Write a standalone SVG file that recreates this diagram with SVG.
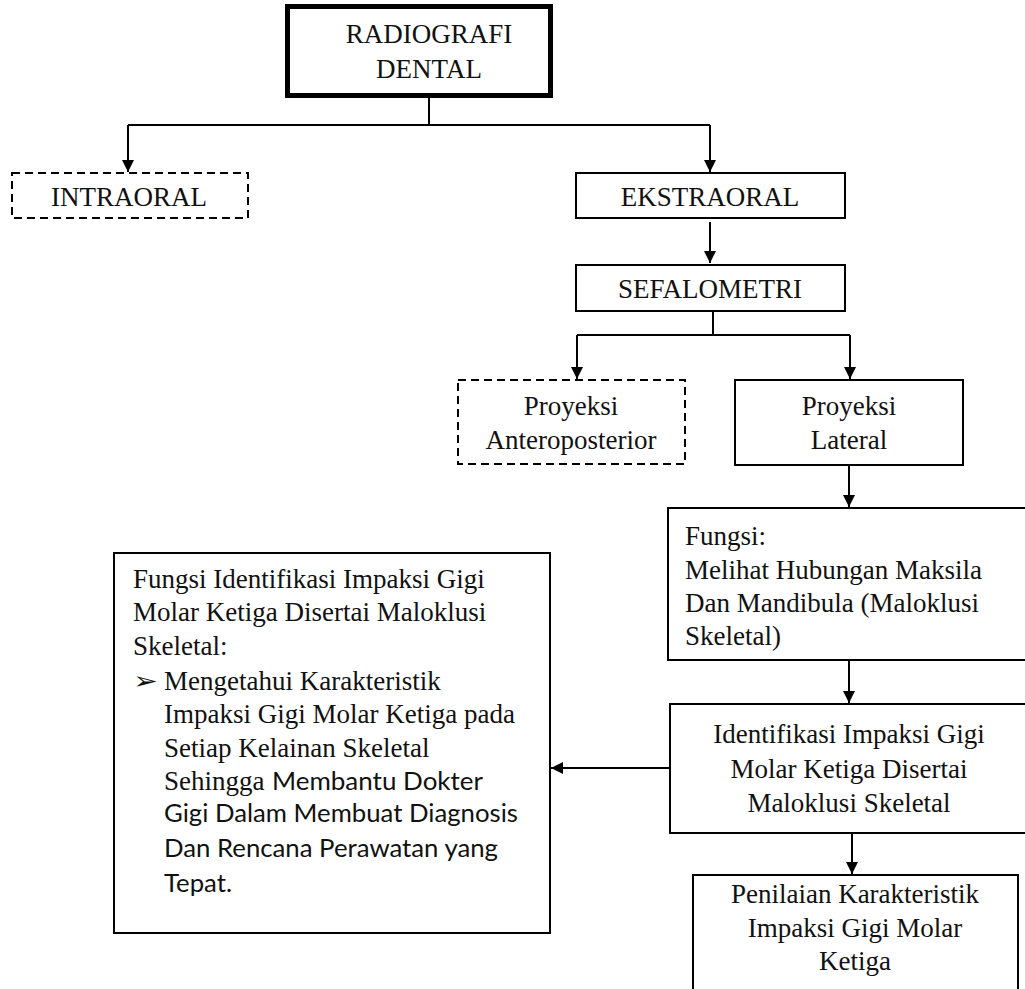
<svg xmlns="http://www.w3.org/2000/svg" width="1025" height="989" viewBox="0 0 1025 989">
<style>
.bx{fill:#fff;stroke:#000;stroke-width:2}
.dash{fill:#fff;stroke:#000;stroke-width:2;stroke-dasharray:8 5}
.t{font-family:"Liberation Serif","Times New Roman",serif;font-size:27px;fill:#111}
.c{text-anchor:middle}
.s{font-family:Lato,"Liberation Sans",sans-serif;font-size:25px;fill:#111}
.ln{fill:none;stroke:#000;stroke-width:2}
</style>
<defs>
<marker id="ah" markerUnits="userSpaceOnUse" markerWidth="12" markerHeight="12" refX="12" refY="6" orient="auto">
<path d="M0,0 L12,6 L0,12 z" fill="#000"/>
</marker>
</defs>
<rect width="1025" height="989" fill="#fff"/>
<g id="connectors">
<path class="ln" d="M429,98 V125"/>
<path class="ln" d="M128,125 H710"/>
<path class="ln" d="M128,125 V172" marker-end="url(#ah)"/>
<path class="ln" d="M710,125 V172" marker-end="url(#ah)"/>
<path class="ln" d="M710,222 V263" marker-end="url(#ah)"/>
<path class="ln" d="M713,311 V335"/>
<path class="ln" d="M577,335 H850"/>
<path class="ln" d="M577,335 V379" marker-end="url(#ah)"/>
<path class="ln" d="M850,335 V379" marker-end="url(#ah)"/>
<path class="ln" d="M849,465 V507" marker-end="url(#ah)"/>
<path class="ln" d="M849,660 V703" marker-end="url(#ah)"/>
<path class="ln" d="M852,833 V874" marker-end="url(#ah)"/>
<path class="ln" d="M670,768 H551" marker-end="url(#ah)"/>
</g>
<g id="radiografi">
<rect x="287.5" y="6.5" width="263" height="89" fill="#fff" stroke="#000" stroke-width="5"/>
<text class="t c" x="429" y="43">RADIOGRAFI</text>
<text class="t c" x="429" y="78">DENTAL</text>
</g>
<g id="intraoral">
<rect class="dash" x="12" y="173" width="236" height="45"/>
<text class="t c" x="129" y="206">INTRAORAL</text>
</g>
<g id="ekstraoral">
<rect class="bx" x="576" y="173" width="269" height="45"/>
<text class="t c" x="710" y="206">EKSTRAORAL</text>
</g>
<g id="sefalometri">
<rect class="bx" x="576" y="265" width="269" height="46"/>
<text class="t c" x="710" y="298">SEFALOMETRI</text>
</g>
<g id="anteroposterior">
<rect class="dash" x="458" y="380" width="227" height="84"/>
<text class="t c" x="571" y="415">Proyeksi</text>
<text class="t c" x="571" y="449">Anteroposterior</text>
</g>
<g id="lateral">
<rect class="bx" x="735" y="380" width="228" height="85"/>
<text class="t c" x="849" y="415">Proyeksi</text>
<text class="t c" x="849" y="449">Lateral</text>
</g>
<g id="fungsi">
<rect class="bx" x="668" y="508" width="360" height="152"/>
<text class="t" x="685" y="545">Fungsi:</text>
<text class="t" x="685" y="579">Melihat Hubungan Maksila</text>
<text class="t" x="685" y="612">Dan Mandibula (Maloklusi</text>
<text class="t" x="685" y="645">Skeletal)</text>
</g>
<g id="identifikasi">
<rect class="bx" x="670" y="704" width="360" height="129"/>
<text class="t c" x="849" y="743">Identifikasi  Impaksi Gigi</text>
<text class="t c" x="849" y="778">Molar Ketiga Disertai</text>
<text class="t c" x="849" y="812">Maloklusi  Skeletal</text>
</g>
<g id="penilaian">
<rect class="bx" x="693" y="875" width="325" height="120"/>
<text class="t c" x="855" y="903">Penilaian Karakteristik</text>
<text class="t c" x="855" y="937">Impaksi Gigi Molar</text>
<text class="t c" x="855" y="970">Ketiga</text>
</g>
<g id="fungsi-identifikasi">
<rect class="bx" x="114" y="553" width="436" height="380"/>
<text class="t" x="133" y="588">Fungsi Identifikasi Impaksi Gigi</text>
<text class="t" x="133" y="621">Molar Ketiga Disertai Maloklusi</text>
<text class="t" x="133" y="655">Skeletal:</text>
<text x="133" y="689" font-family="DejaVu Sans,sans-serif" font-size="24" fill="#111" textLength="25" lengthAdjust="spacingAndGlyphs">➢</text>
<text class="t" x="164" y="690">Mengetahui Karakteristik</text>
<text class="t" x="164" y="723">Impaksi Gigi Molar Ketiga pada</text>
<text class="t" x="164" y="757">Setiap Kelainan Skeletal</text>
<text class="t" x="164" y="790">Sehingga</text>
<text class="s" x="272" y="790" textLength="211" lengthAdjust="spacingAndGlyphs">Membantu Dokter</text>
<text class="s" x="164" y="822" textLength="354" lengthAdjust="spacingAndGlyphs">Gigi Dalam Membuat Diagnosis</text>
<text class="s" x="164" y="857" textLength="334" lengthAdjust="spacingAndGlyphs">Dan Rencana Perawatan yang</text>
<text class="s" x="164" y="892" textLength="68" lengthAdjust="spacingAndGlyphs">Tepat.</text>
</g>
</svg>
